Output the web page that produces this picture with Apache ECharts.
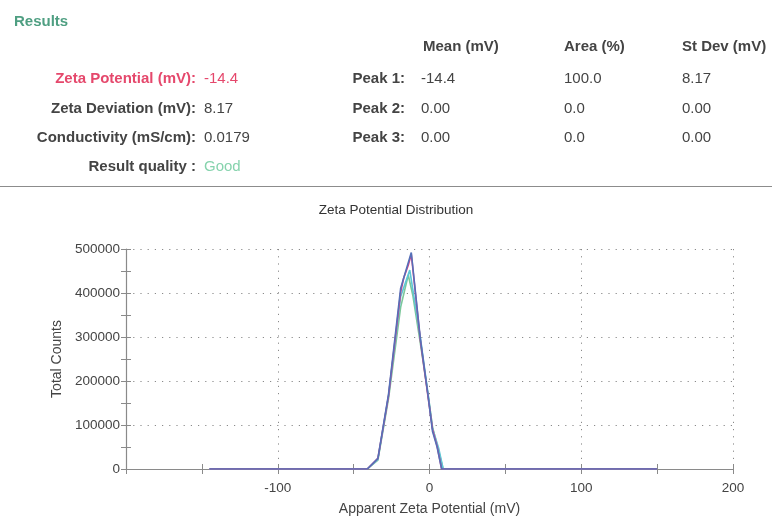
<!DOCTYPE html>
<html>
<head>
<meta charset="utf-8">
<script src="https://cdn.jsdelivr.net/npm/echarts@6/dist/echarts.min.js"></script>
<style>
  html, body { margin: 0; padding: 0; background: #ffffff; }
  #chart { width: 774px; height: 517px; }
</style>
</head>
<body>
<div id="chart"></div>
<script>
// ---- Summary table ----
var resultLabels = ['Zeta Potential (mV):', 'Zeta Deviation (mV):', 'Conductivity (mS/cm):', 'Result quality :'];
var resultValues = ['-14.4', '8.17', '0.0179', 'Good'];
var peakHeaders = ['Mean (mV)', 'Area (%)', 'St Dev (mV)'];
var peakNames = ['Peak 1:', 'Peak 2:', 'Peak 3:'];
var peakMean = ['-14.4', '0.00', '0.00'];
var peakArea = ['100.0', '0.0', '0.0'];
var peakStDev = ['8.17', '0.00', '0.00'];

// ---- Distribution runs: apparent zeta potential (mV) vs total counts ----
var run1Zeta = [-145, -41, -34, -27, -19, -17, -14, -12, -6, -1, 2, 5, 8, 150];
var run1Counts = [0, 0, 24000, 166000, 402000, 434000, 463000, 488000, 292000, 165000, 90000, 52000, 0, 0];
var run2Zeta = [-145, -41, -34, -27, -19, -12, -6, -1, 2, 5, 8, 150];
var run2Counts = [0, 0, 24000, 170000, 411000, 492000, 295000, 168000, 85000, 50000, 0, 0];
var run3Zeta = [-145, -41, -34, -27, -19, -14, -11, -6, -1, 2, 5, 9, 150];
var run3Counts = [0, 0, 20000, 160000, 368000, 441000, 395000, 285000, 170000, 95000, 55000, 0, 0];
var run4Zeta = [-145, -41, -34, -27, -19, -13, -6, -1, 2, 6, 9, 150];
var run4Counts = [0, 0, 22000, 166000, 392000, 452000, 298000, 172000, 92000, 48000, 0, 0];

var xTicks = { min: -200, max: 200, step: 100 };
var yTicks = { min: 0, max: 500000, step: 100000 };

function pairs(xs, ys) {
  return xs.map(function (x, i) { return [x, ys[i]]; });
}

var FONT = '"Liberation Sans", Arial, sans-serif';
var TXT = '#444444';
var GRID = '#8a8a8a';
var TICK = 5;

var chart = echarts.init(document.getElementById('chart'), null, { renderer: 'canvas' });

// Header texts built from the table arrays
var graphics = [];
function txt(s, x, y, opts) {
  opts = opts || {};
  graphics.push({
    type: 'text', silent: true,
    style: {
      text: s, x: x, y: y,
      font: (opts.bold ? 'bold ' : '') + (opts.size || 15) + 'px ' + FONT,
      fill: opts.color || TXT,
      align: opts.align || 'left',
      verticalAlign: 'middle'
    }
  });
}
txt('Results', 14, 22, { bold: true, color: '#4f9f82' });

var rowY = [79, 109, 138, 167];
resultLabels.forEach(function (s, i) {
  txt(s, 196, rowY[i], { bold: true, align: 'right', color: i === 0 ? '#e5486c' : TXT });
  var c = i === 0 ? '#e5486c' : (i === 3 ? '#86d3ad' : TXT);
  txt(resultValues[i], 204, rowY[i], { color: c });
});

var colX = [423, 564, 682];
peakHeaders.forEach(function (s, i) { txt(s, colX[i], 47, { bold: true }); });
peakNames.forEach(function (s, i) {
  txt(s, 405, rowY[i], { bold: true, align: 'right' });
  txt(peakMean[i], colX[0] - 2, rowY[i]);
  txt(peakArea[i], colX[1], rowY[i]);
  txt(peakStDev[i], colX[2], rowY[i]);
});

graphics.push({
  type: 'line', silent: true,
  shape: { x1: 0, y1: 186.5, x2: 772, y2: 186.5 },
  style: { stroke: '#8c8c8c', lineWidth: 1 }
});
txt('Zeta Potential Distribution', 396, 210, { size: 13.5, align: 'center', color: '#333333' });

var dotted = { color: GRID, width: 1, type: [1.2, 6] };
var plot = { left: 126, right: 41, top: 249, bottom: 48 };

// Grid 0 holds the data, labels and outward ticks. Grids 1 and 2 are the
// same plot shifted by one tick length, so their outward ticks reach into
// the plot and the tick marks cross the axis lines.
var grids = [
  { left: plot.left, right: plot.right, top: plot.top, bottom: plot.bottom },
  { left: plot.left + TICK, right: plot.right, top: plot.top, bottom: plot.bottom },
  { left: plot.left, right: plot.right, top: plot.top, bottom: plot.bottom + TICK }
].map(function (g) {
  g.containLabel = false; g.outerBoundsMode = 'none'; return g;
});

var tickStyle = {
  axisTick: { show: true, length: TICK, lineStyle: { color: GRID } },
  minorTick: { show: true, splitNumber: 2, length: TICK, lineStyle: { color: GRID } }
};

function xAxisDef(gridIndex, kind) {
  var main = kind === 'main', ticks = kind !== 'hidden';
  return {
    type: 'value', gridIndex: gridIndex, show: ticks,
    min: xTicks.min, max: xTicks.max, interval: xTicks.step,
    position: 'bottom',
    name: main ? 'Apparent Zeta Potential (mV)' : '',
    nameLocation: 'middle', nameGap: 33,
    nameTextStyle: { fontFamily: FONT, fontSize: 14, color: TXT },
    axisLine: { show: main, onZero: false, lineStyle: { color: GRID, width: 1.2 } },
    axisTick: tickStyle.axisTick,
    minorTick: tickStyle.minorTick,
    axisLabel: { show: main, showMinLabel: false, margin: 12, fontFamily: FONT, fontSize: 13.5, color: TXT },
    splitLine: { show: main, lineStyle: dotted },
    minorSplitLine: { show: false }
  };
}
function yAxisDef(gridIndex, kind) {
  var main = kind === 'main', ticks = kind !== 'hidden';
  return {
    type: 'value', gridIndex: gridIndex, show: ticks,
    min: yTicks.min, max: yTicks.max, interval: yTicks.step,
    position: 'left',
    name: main ? 'Total Counts' : '',
    nameLocation: 'middle', nameGap: 51,
    nameTextStyle: { fontFamily: FONT, fontSize: 14, color: TXT },
    axisLine: { show: main, onZero: false, lineStyle: { color: GRID, width: 1.2 } },
    axisTick: tickStyle.axisTick,
    minorTick: tickStyle.minorTick,
    axisLabel: {
      show: main, margin: 6, fontFamily: FONT, fontSize: 13.5, color: TXT,
      formatter: function (v) { return String(v); }
    },
    splitLine: { show: main, lineStyle: dotted },
    minorSplitLine: { show: false }
  };
}

function run(name, zeta, counts, color) {
  return {
    name: name, type: 'line', xAxisIndex: 0, yAxisIndex: 0,
    data: pairs(zeta, counts),
    showSymbol: false, symbol: 'none', smooth: false,
    lineStyle: { color: color, width: 1.6 },
    emphasis: { disabled: true }
  };
}
function holder(i) {
  return { type: 'line', xAxisIndex: i, yAxisIndex: i, data: [], silent: true };
}

chart.setOption({
  backgroundColor: '#ffffff',
  animation: false,
  grid: grids,
  xAxis: [xAxisDef(0, 'main'), xAxisDef(1, 'hidden'), xAxisDef(2, 'ticks')],
  yAxis: [yAxisDef(0, 'main'), yAxisDef(1, 'ticks'), yAxisDef(2, 'hidden')],
  series: [
    run('Run 3', run3Zeta, run3Counts, '#7cc79a'),
    run('Run 4', run4Zeta, run4Counts, '#5fc6d6'),
    run('Run 1', run1Zeta, run1Counts, '#d9428a'),
    run('Run 2', run2Zeta, run2Counts, '#5570b8'),
    holder(1), holder(2)
  ],
  graphic: graphics
});
</script>
</body>
</html>
